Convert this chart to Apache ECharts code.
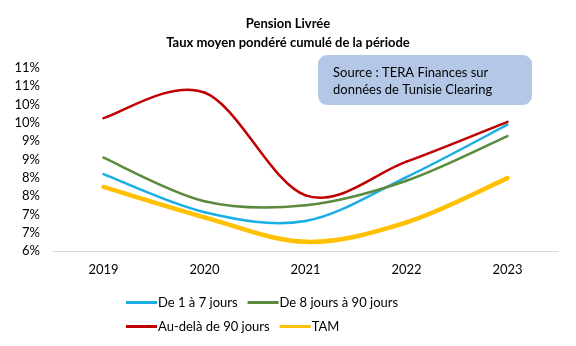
<!DOCTYPE html>
<html><head><meta charset="utf-8">
<script src="https://cdn.jsdelivr.net/npm/echarts@6/dist/echarts.min.js"></script>
<style>html,body{margin:0;padding:0;background:#fff}#c{width:576px;height:346px}</style>
</head><body><div id="c"></div>
<script>
const years = ['2019','2020','2021','2022','2023'];
const s1to7 = [8.10, 7.06, 6.82, 8.02, 9.45];
const s8to90 = [8.55, 7.36, 7.25, 7.92, 9.14];
const sOver90 = [9.63, 10.33, 7.52, 8.44, 9.53];
const sTAM = [7.75, 6.92, 6.25, 6.78, 7.99];
const names = ['De 1 à 7 jours','De 8 jours à 90 jours','Au-delà de 90 jours','TAM'];
const colors = ['#1aaee6','#5a8a3c','#c00000','#ffc000'];
const widths = [2.5, 2.5, 2.5, 4.5];
const dataSets = [s1to7, s8to90, sOver90, sTAM];
const FONT = 'Lato';
const chart = echarts.init(document.getElementById('c'));
const legendBase = {
  orient: 'horizontal', itemWidth: 31, itemHeight: 3, itemGap: 10, icon: 'rect',
  textStyle: {fontFamily: FONT, fontSize: 13, color: '#000', width: 125, padding: [0,0,0,-4]}
};
function makeRender(arr, color, width) {
  return function (params, api) {
    const i = params.dataIndex;
    const n = arr.length;
    if (i >= n - 1) return null;
    const P = k => api.coord([Math.max(0, Math.min(n - 1, k)), arr[Math.max(0, Math.min(n - 1, k))]]);
    const p0 = P(i - 1), p1 = P(i), p2 = P(i + 1), p3 = P(i + 2);
    const t = 1 / 6;
    return {
      type: 'bezierCurve',
      shape: {
        x1: p1[0], y1: p1[1], x2: p2[0], y2: p2[1],
        cpx1: p1[0] + (p2[0] - p0[0]) * t, cpy1: p1[1] + (p2[1] - p0[1]) * t,
        cpx2: p2[0] - (p3[0] - p1[0]) * t, cpy2: p2[1] - (p3[1] - p1[1]) * t
      },
      style: {stroke: color, lineWidth: width, fill: null, lineCap: 'round'}
    };
  };
}
chart.setOption({
  animation: false,
  title: {
    text: 'Pension Livrée\nTaux moyen pondéré cumulé de la période',
    left: 'center', top: 9,
    textStyle: {fontFamily: FONT, fontSize: 13, fontWeight: 'bold', color: '#000', lineHeight: 19}
  },
  grid: {left: 53, right: 18, top: 68, bottom: 95},
  xAxis: {
    type: 'category', data: years, boundaryGap: true,
    axisLine: {lineStyle: {color: '#d9d9d9', width: 1}},
    axisTick: {show: false},
    axisLabel: {fontFamily: FONT, fontSize: 13, color: '#000', margin: 12}
  },
  yAxis: {
    type: 'value', min: 6, max: 11, interval: 0.5,
    splitLine: {show: false}, axisLine: {show: false}, axisTick: {show: false},
    axisLabel: {fontFamily: FONT, fontSize: 13, color: '#000', margin: 13,
      formatter: v => Math.round(v) + '%'}
  },
  legend: [
    Object.assign({}, legendBase, {data: [names[0], names[1]], left: 121, top: 291}),
    Object.assign({}, legendBase, {data: [names[2], names[3]], left: 121, top: 315})
  ],
  graphic: [{
    type: 'group', left: 318, top: 55,
    children: [
      {type: 'rect', shape: {x: 0, y: 0, width: 214, height: 50, r: 9}, style: {fill: '#b4c7e7'}},
      {type: 'text', x: 15, y: 9, style: {text: 'Source : TERA Finances sur\ndonnées de Tunisie Clearing',
        font: '13px ' + FONT, fill: '#000', lineHeight: 17}}
    ]
  }],
  series: dataSets.map((d, i) => ({
    name: names[i], type: 'custom', coordinateSystem: 'cartesian2d',
    data: d.map((v, k) => [k, v]),
    encode: {x: 0, y: 1},
    renderItem: makeRender(d, colors[i], widths[i]),
    itemStyle: {color: colors[i]},
    z: i === 3 ? 1 : 2
  }))
});
</script></body></html>
